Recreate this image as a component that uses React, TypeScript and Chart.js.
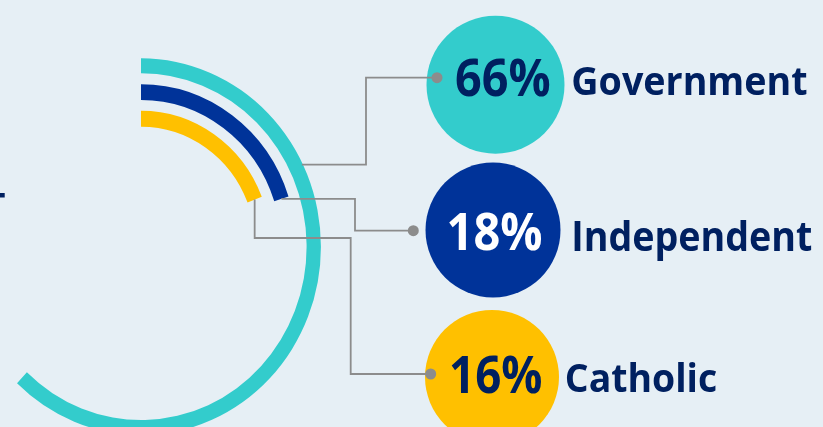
import React, { useEffect, useRef } from "react";
import { Chart, registerables } from "chart.js";

Chart.register(...registerables);

// ---- data ----
const categories = ["Government", "Independent", "Catholic"];
const shares = [66, 18, 16]; // labelled percentages
const ringSweeps = [62.1, 20.0, 19.0]; // share of a full turn each ring sweeps in the picture
const ringColors = ["#33CCCC", "#003399", "#FFC000"];
const percentColors = ["#002060", "#FFFFFF", "#002060"];
const LABEL_COLOR = "#002060";
const BG = "#E6EFF5";

// ---- layout ----
const W = 823;
const H = 427;
const RING_CX = 141;
const RING_CY = 246.7;
const X_SQUISH = 0.955;
const OUTER_R = 188.4;
const CUTOUT = "63.7%";
const RING_WEIGHTS = [15, 15.7, 16];
const GAP_WEIGHTS = [11, 10.7];
const PERCENT_FONT = 'bold 52px "Open Sans"';
const LABEL_FONTS = ['bold 39px "Open Sans"', 'bold 41px "Open Sans"', 'bold 40px "Open Sans"'];
const badges = [
  { x: 495.5, y: 84.7, r: 69 },
  { x: 493, y: 230, r: 67.5 },
  { x: 492, y: 377, r: 67 },
];
// ink box (left, baseline, width) of each text in the picture
const percentInk = [
  { x: 456, y: 95.7, w: 94 },
  { x: 449.3, y: 250, w: 92.4 },
  { x: 451.7, y: 392.7, w: 90 },
];
const labelInk = [
  { x: 573.3, y: 95, w: 233.4 },
  { x: 574, y: 250.7, w: 237.7 },
  { x: 566.7, y: 392.3, w: 150 },
];
type Step = ["h" | "v", number];
const leaders: { anchorDeg: number | null; steps: Step[] }[] = [
  { anchorDeg: 64, steps: [["h", 366], ["v", 77.7], ["h", 437]] },
  { anchorDeg: null, steps: [["h", 355], ["v", 230.7], ["h", 413.3]] },
  { anchorDeg: null, steps: [["v", 238], ["h", 350.7], ["v", 374], ["h", 430.7]] },
];
const LEADER_COLOR = "#8C8C8C";
const DOT_R = 5.5;

function fitText(
  ctx: CanvasRenderingContext2D,
  text: string,
  font: string,
  color: string,
  box: { x: number; y: number; w: number }
) {
  ctx.save();
  ctx.font = font;
  ctx.textAlign = "left";
  ctx.textBaseline = "alphabetic";
  const m = ctx.measureText(text);
  const ink = m.actualBoundingBoxLeft + m.actualBoundingBoxRight;
  const sx = ink > 0 ? box.w / ink : 1;
  ctx.translate(box.x, box.y);
  ctx.scale(sx, 1);
  ctx.fillStyle = color;
  ctx.fillText(text, m.actualBoundingBoxLeft, 0);
  ctx.restore();
}

export default function App() {
  const ref = useRef<HTMLCanvasElement>(null);

  useEffect(() => {
    const canvas = ref.current;
    if (!canvas) return;

    const datasets: any[] = [];
    ringSweeps.forEach((v, i) => {
      datasets.push({
        label: categories[i],
        data: [v, 100 - v],
        backgroundColor: [ringColors[i], "rgba(0,0,0,0)"],
        borderWidth: 0,
        weight: RING_WEIGHTS[i],
        clip: false,
      });
      if (i < ringSweeps.length - 1) {
        datasets.push({
          label: "gap",
          data: [100],
          backgroundColor: ["rgba(0,0,0,0)"],
          borderWidth: 0,
          weight: GAP_WEIGHTS[i],
          clip: false,
        });
      }
    });

    const squish = {
      id: "squish",
      beforeDatasetsDraw(chart: any) {
        const ctx = chart.ctx;
        const arc = chart.getDatasetMeta(0).data[0] as any;
        ctx.save();
        ctx.translate(arc.x, 0);
        ctx.scale(X_SQUISH, 1);
        ctx.translate(-arc.x, 0);
      },
      afterDatasetsDraw(chart: any) {
        chart.ctx.restore();
      },
    };

    const overlay = {
      id: "overlay",
      afterDraw(chart: any) {
        const ctx: CanvasRenderingContext2D = chart.ctx;
        ctx.save();

        // badge circles
        badges.forEach((b, i) => {
          ctx.beginPath();
          ctx.arc(b.x, b.y, b.r, 0, Math.PI * 2);
          ctx.fillStyle = ringColors[i];
          ctx.fill();
        });

        // leaders
        const pts: { x: number; y: number }[] = [];
        leaders.forEach((ld, i) => {
          const arc = chart.getDatasetMeta(i * 2).data[0] as any;
          let a: number, r: number;
          if (ld.anchorDeg !== null) {
            a = arc.startAngle + (ld.anchorDeg * Math.PI) / 180;
            r = arc.outerRadius - 1;
          } else {
            a = arc.endAngle;
            r = (arc.innerRadius + arc.outerRadius) / 2;
          }
          let x = arc.x + X_SQUISH * r * Math.cos(a);
          let y = arc.y + r * Math.sin(a);
          ctx.beginPath();
          ctx.moveTo(x, y);
          ld.steps.forEach(([k, v]) => {
            if (k === "h") x = v;
            else y = v;
            ctx.lineTo(x, y);
          });
          ctx.strokeStyle = LEADER_COLOR;
          ctx.lineWidth = 1.8;
          ctx.lineJoin = "miter";
          ctx.stroke();
          pts.push({ x, y });
        });
        pts.forEach((p) => {
          ctx.beginPath();
          ctx.arc(p.x, p.y, DOT_R, 0, Math.PI * 2);
          ctx.fillStyle = LEADER_COLOR;
          ctx.fill();
        });

        // texts
        shares.forEach((s, i) => {
          fitText(ctx, `${s}%`, PERCENT_FONT, percentColors[i], percentInk[i]);
          fitText(ctx, categories[i], LABEL_FONTS[i], LABEL_COLOR, labelInk[i]);
        });

        // small cropped mark at the left edge
        ctx.fillStyle = LABEL_COLOR;
        ctx.fillRect(0, 193, 4.7, 4.5);

        ctx.restore();
      },
    };

    const chart = new Chart(canvas, {
      type: "doughnut",
      data: { labels: ["share", "rest"], datasets },
      options: {
        animation: false,
        responsive: false,
        events: [],
        radius: OUTER_R,
        cutout: CUTOUT,
        layout: { padding: { left: 0, right: W - 2 * RING_CX, top: 2 * RING_CY - H, bottom: 0 } },
        plugins: { legend: { display: false }, tooltip: { enabled: false }, title: { display: false } },
      } as any,
      plugins: [squish, overlay],
    });

    return () => chart.destroy();
  }, []);

  return (
    <div
      style={{
        position: "absolute",
        left: 0,
        top: 0,
        width: W,
        height: H,
        overflow: "hidden",
        background: BG,
      }}
    >
      <canvas ref={ref} width={W} height={H} style={{ display: "block", width: W, height: H }} />
    </div>
  );
}
